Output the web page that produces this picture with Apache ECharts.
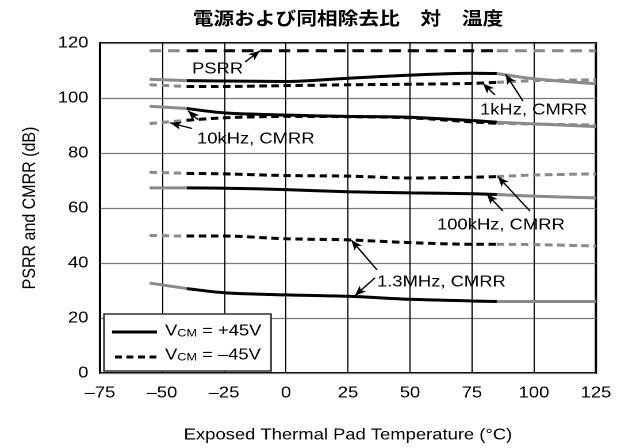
<!DOCTYPE html>
<html><head><meta charset="utf-8">
<script src="https://cdn.jsdelivr.net/npm/echarts@6/dist/echarts.min.js"></script>
<style>
html,body{margin:0;padding:0;background:#fff;overflow:hidden}
#wrap{width:628px;height:448px;overflow:hidden}
#c{height:448px;transform-origin:0 0}
</style>
</head><body><div id="wrap"><div id="c"></div></div>
<script>
// ---- data ----
const temps       = [-55, -40, -25, 0, 25, 50, 75, 85, 100, 125];
const psrr        = [117.2, 117.2, 117.2, 117.2, 117.2, 117.2, 117.2, 117.2, 117.2, 117.2];
const cmrr1kP     = [106.8, 106.3, 106.2, 106.0, 107.2, 108.3, 109.0, 108.9, 107.0, 105.2];
const cmrr1kM     = [104.8, 104.2, 104.2, 104.5, 104.8, 105.0, 105.3, 105.7, 106.3, 106.6];
const cmrr10kP    = [97.0, 96.2, 94.6, 93.8, 93.3, 93.0, 91.8, 91.2, 90.6, 89.6];
const cmrr10kM    = [90.7, 91.9, 92.8, 93.3, 93.2, 92.8, 91.3, 90.8, 90.5, 90.2];
const cmrr100kP   = [67.3, 67.3, 67.2, 66.7, 65.9, 65.5, 65.2, 64.9, 64.3, 63.7];
const cmrr100kM   = [73.0, 72.6, 72.4, 71.8, 71.6, 70.9, 71.2, 71.4, 72.0, 72.4];
const cmrr13MP    = [32.7, 30.7, 29.2, 28.4, 27.9, 26.8, 26.2, 26.0, 26.0, 26.0];
const cmrr13MM    = [50.0, 49.8, 49.8, 48.8, 48.4, 47.4, 46.8, 46.8, 46.7, 46.2];
const xTicks      = [-75, -50, -25, 0, 25, 50, 75, 100, 125];
const yTicks      = [0, 20, 40, 60, 80, 100, 120];
const specRange   = [-40, 85];   // black (specified) region; outside is gray

const titleText = '電源および同相除去比\u3000対\u3000温度';
const xName = 'Exposed Thermal Pad Temperature (\u00B0C)';
const yName = 'PSRR and CMRR (dB)';
const annoTexts = ['PSRR', '10kHz, CMRR', '1kHz, CMRR', '100kHz, CMRR', '1.3MHz, CMRR'];
const legendTexts = ['{v|V}{s|CM}{v| = +45V}', '{v|V}{s|CM}{v| = \u201345V}'];

// ---- layout: the reference is horizontally stretched, reproduce with scaleX ----
const S = 1.15;
const W = 628 / S;
const cdiv = document.getElementById('c');
cdiv.style.width = W + 'px';
cdiv.style.transform = 'scaleX(' + S + ')';
const X = px => px / S;  // reference x-pixel -> unscaled

const FONT = "'Liberation Sans', Arial, sans-serif";
const BLACK = '#000', GRAY = '#8a8a8a';
function seg(vals, lo, hi) {
  const out = [];
  temps.forEach((t, i) => { if (t >= lo && t <= hi) out.push([t, vals[i]]); });
  return out;
}
function curve(name, vals, type, width) {
  const parts = [
    [seg(vals, -Infinity, specRange[0]), GRAY],
    [seg(vals, specRange[0], specRange[1]), BLACK],
    [seg(vals, specRange[1], Infinity), GRAY]
  ];
  return parts.map(([d, col], k) => ({
    name: name + k, type: 'line', data: d, symbol: 'none', smooth: 0.3,
    lineStyle: { color: col, width: width, type: type, cap: 'butt' },
    z: col === BLACK ? 4 : 3, silent: true
  }));
}
const SHORT = [6.5, 4];
const LONG = [10, 6];
let series = [];
series = series.concat(curve('psrr', psrr, LONG, 3));
series = series.concat(curve('1kP', cmrr1kP, 'solid', 3));
series = series.concat(curve('1kM', cmrr1kM, SHORT, 3));
series = series.concat(curve('10kP', cmrr10kP, 'solid', 3));
series = series.concat(curve('10kM', cmrr10kM, SHORT, 3));
series = series.concat(curve('100kP', cmrr100kP, 'solid', 3));
series = series.concat(curve('100kM', cmrr100kM, SHORT, 3));
series = series.concat(curve('13MP', cmrr13MP, 'solid', 3));
series = series.concat(curve('13MM', cmrr13MM, SHORT, 3));

// annotation arrows in data coordinates: [tail, head]
const arrows = [
  [[-16.5, 113.1], [-10.5, 117.2]],
  [[-35.5, 92.1], [-39.5, 95.4]],
  [[-37.9, 88.9], [-46.8, 91.0]],
  [[84.3, 101.1], [79.4, 105.3]],
  [[95.6, 98.9], [88.6, 108.6]],
  [[87.5, 58.9], [81.0, 65.1]],
  [[98.4, 58.9], [85.5, 71.4]],
  [[36.7, 37.5], [26.4, 48.3]],
  [[35.9, 34.6], [27.8, 28.1]]
];
series.push({
  name: 'arrows', type: 'line', data: [], symbol: 'none', silent: true, z: 6,
  markLine: {
    silent: true, animation: false, symbol: ['none', 'arrow'], symbolSize: [6, 10],
    label: { show: false },
    lineStyle: { color: '#000', width: 1.3, type: 'solid' },
    emphasis: { disabled: true },
    data: arrows.map(a => [{ coord: a[0] }, { coord: a[1] }])
  }
});

const chart = echarts.init(cdiv, null, { renderer: 'canvas', devicePixelRatio: 2 });
const legRich = {
  v: { fontSize: 16, fontFamily: FONT, color: '#000' },
  s: { fontSize: 11, fontFamily: FONT, color: '#000', padding: [5, 0, 0, 0] }
};
const annoPos = [[192, 61], [197, 131], [480, 102], [437, 217], [377, 274]];
const annoGraphics = annoTexts.map((t, i) => ({
  type: 'text', x: X(annoPos[i][0]), y: annoPos[i][1], z: 10,
  style: { text: t, font: '16px ' + FONT, fill: '#000' }
}));
chart.setOption({
  animation: false,
  backgroundColor: '#fff',
  grid: { left: X(100), right: X(32), top: 43, bottom: 68, show: true, borderColor: '#000', borderWidth: 2, backgroundColor: 'transparent' },
  xAxis: {
    type: 'value', min: xTicks[0], max: xTicks[xTicks.length - 1], interval: 25,
    name: xName, nameLocation: 'middle', nameGap: 54,
    nameTextStyle: { fontFamily: FONT, fontSize: 16, color: '#000' },
    axisLine: { show: false }, axisTick: { show: false },
    axisLabel: { fontFamily: FONT, fontSize: 16, color: '#000', margin: 12,
      formatter: v => String(v).replace('-', '\u2013') },
    splitLine: { show: true, lineStyle: { color: '#000', width: 1 } }
  },
  yAxis: {
    type: 'value', min: yTicks[0], max: yTicks[yTicks.length - 1], interval: 20,
    name: yName, nameLocation: 'middle', nameGap: 53,
    nameTextStyle: { fontFamily: FONT, fontSize: 16, color: '#000' },
    axisLine: { show: false }, axisTick: { show: false },
    axisLabel: { fontFamily: FONT, fontSize: 16, color: '#000', margin: 10 },
    splitLine: { show: true, lineStyle: { color: '#7a7a7a', width: 1.2 } }
  },
  series: series,
  graphic: annoGraphics.concat([
    { type: 'text', x: X(348), y: 9, z: 10,
      style: { text: titleText, font: "bold 18px 'Noto Sans CJK JP', sans-serif", fill: '#000', textAlign: 'center' } },
    // legend box
    { type: 'rect', x: X(104), y: 314, z: 20, shape: { width: X(167), height: 57 },
      style: { fill: '#fff', stroke: '#333', lineWidth: 1.5 } },
    { type: 'line', z: 21, shape: { x1: X(112), y1: 332, x2: X(157), y2: 332 },
      style: { stroke: '#000', lineWidth: 3 } },
    { type: 'line', z: 21, shape: { x1: X(115), y1: 357, x2: X(157), y2: 357 },
      style: { stroke: '#000', lineWidth: 3, lineDash: [6, 4] } },
    { type: 'text', x: X(165), y: 323, z: 21, style: { text: legendTexts[0], rich: legRich } },
    { type: 'text', x: X(165), y: 347, z: 21, style: { text: legendTexts[1], rich: legRich } }
  ])
});
</script>
</body></html>
